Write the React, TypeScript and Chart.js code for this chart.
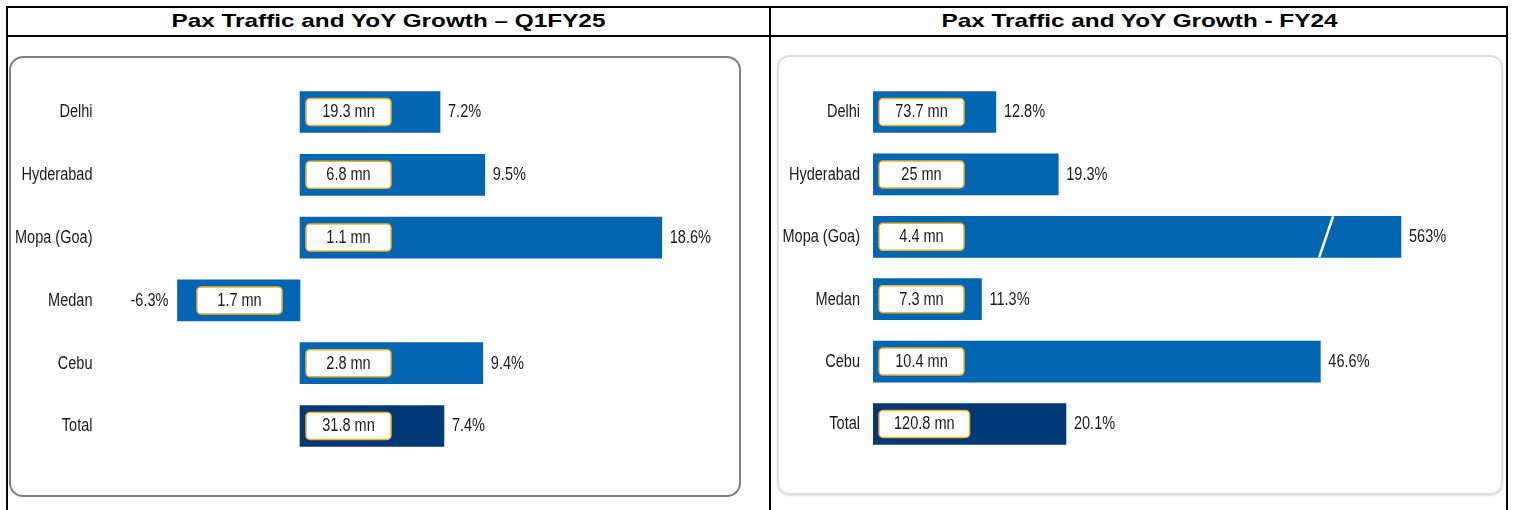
import React, { useEffect, useRef } from "react";
import { Chart, registerables } from "chart.js";

Chart.register(...registerables);

const categories = ["Delhi", "Hyderabad", "Mopa (Goa)", "Medan", "Cebu", "Total"];

const q1TrafficMn = [19.3, 6.8, 1.1, 1.7, 2.8, 31.8];
const q1GrowthPct = [7.2, 9.5, 18.6, -6.3, 9.4, 7.4];

const fy24TrafficMn = [73.7, 25, 4.4, 7.3, 10.4, 120.8];
const fy24GrowthPct = [12.8, 19.3, 563, 11.3, 46.6, 20.1];
// FY24 axis is broken: bars longer than this are drawn truncated with a break mark
const fy24AxisBreak = 55;
const fy24BreakMarkAt = 47.2;

const titles = ["Pax Traffic and YoY Growth \u2013 Q1FY25", "Pax Traffic and YoY Growth - FY24"];

const BLUE = "#0366b2";
const NAVY = "#013876";
const GOLD = "#f0b323";
const TEXT = "#1a1a1a";
const FONT_FAMILY = '"Liberation Sans", Arial, sans-serif';
const FONT_SIZE = 17.5;
const TEXT_SCALE_X = 0.83;

type PanelCfg = {
  traffic: number[];
  growth: number[];
  axisBreak?: number;
  breakAt?: number;
  min: number;
  max: number;
  padding: { left: number; right: number; top: number; bottom: number };
  width: number;
  height: number;
};

function fmt(v: number) {
  return String(v);
}

function roundRect(ctx: CanvasRenderingContext2D, x: number, y: number, w: number, h: number, r: number) {
  ctx.beginPath();
  ctx.moveTo(x + r, y);
  ctx.lineTo(x + w - r, y);
  ctx.arcTo(x + w, y, x + w, y + r, r);
  ctx.lineTo(x + w, y + h - r);
  ctx.arcTo(x + w, y + h, x + w - r, y + h, r);
  ctx.lineTo(x + r, y + h);
  ctx.arcTo(x, y + h, x, y + h - r, r);
  ctx.lineTo(x, y + r);
  ctx.arcTo(x, y, x + r, y, r);
  ctx.closePath();
}

function drawText(ctx: CanvasRenderingContext2D, txt: string, x: number, y: number, align: CanvasTextAlign) {
  ctx.save();
  ctx.translate(x, y);
  ctx.scale(TEXT_SCALE_X, 1);
  ctx.textAlign = align;
  ctx.fillText(txt, 0, 0);
  ctx.restore();
}

function makeLabelPlugin(cfg: PanelCfg) {
  return {
    id: "barLabels",
    afterDatasetsDraw(chart: any) {
      const ctx: CanvasRenderingContext2D = chart.ctx;
      const meta = chart.getDatasetMeta(0);
      const xScale = chart.scales.x;
      const area = chart.chartArea;
      const base = xScale.getPixelForValue(0);
      ctx.save();
      ctx.font = `${FONT_SIZE}px ${FONT_FAMILY}`;
      ctx.textBaseline = "middle";
      meta.data.forEach((bar: any, i: number) => {
        const y = bar.y + 0.5;
        const g = cfg.growth[i];
        ctx.fillStyle = TEXT;
        drawText(ctx, categories[i], area.left - 13, y, "right");
        if (g >= 0) {
          drawText(ctx, fmt(g) + "%", bar.x + 8, y, "left");
        } else {
          drawText(ctx, fmt(g) + "%", bar.x - 9, y, "right");
        }
        if (cfg.axisBreak !== undefined && cfg.breakAt !== undefined && g > cfg.axisBreak) {
          const bx = xScale.getPixelForValue(cfg.breakAt);
          const h = bar.height / 2;
          ctx.strokeStyle = "#ffffff";
          ctx.lineWidth = 2.5;
          ctx.beginPath();
          ctx.moveTo(bx - 7, bar.y + h);
          ctx.lineTo(bx + 7, bar.y - h);
          ctx.stroke();
        }
        const txt = fmt(cfg.traffic[i]) + " mn";
        const tw = ctx.measureText(txt).width * TEXT_SCALE_X;
        const bw = Math.max(85, tw + 30);
        const bh = 27;
        const bxLeft = g >= 0 ? base + 6 : base - 18 - bw;
        roundRect(ctx, bxLeft, bar.y - bh / 2, bw, bh, 4);
        ctx.fillStyle = "#ffffff";
        ctx.fill();
        ctx.strokeStyle = GOLD;
        ctx.lineWidth = 1.5;
        ctx.stroke();
        ctx.fillStyle = TEXT;
        drawText(ctx, txt, bxLeft + bw / 2, y, "center");
      });
      ctx.restore();
    },
  };
}

function BarPanel({ cfg, style }: { cfg: PanelCfg; style: React.CSSProperties }) {
  const ref = useRef<HTMLCanvasElement | null>(null);
  useEffect(() => {
    if (!ref.current) return;
    const shown = cfg.growth.map((g) => (cfg.axisBreak !== undefined ? Math.min(g, cfg.axisBreak) : g));
    const chart = new Chart(ref.current, {
      type: "bar",
      data: {
        labels: categories,
        datasets: [
          {
            data: shown,
            backgroundColor: categories.map((_, i) => (i === categories.length - 1 ? NAVY : BLUE)),
            borderWidth: 0,
            barThickness: 41,
          },
        ],
      },
      options: {
        indexAxis: "y",
        animation: false,
        responsive: false,
        devicePixelRatio: 1,
        layout: { padding: cfg.padding },
        plugins: { legend: { display: false }, tooltip: { enabled: false }, title: { display: false } },
        scales: {
          x: { display: false, min: cfg.min, max: cfg.max, grid: { display: false } },
          y: { display: false, grid: { display: false } },
        },
      },
      plugins: [makeLabelPlugin(cfg)],
    } as any);
    return () => chart.destroy();
  }, [cfg]);
  return <canvas ref={ref} width={cfg.width} height={cfg.height} style={{ position: "absolute", ...style, width: cfg.width, height: cfg.height }} />;
}

const leftCfg: PanelCfg = {
  traffic: q1TrafficMn,
  growth: q1GrowthPct,
  min: -10,
  max: 20,
  padding: { left: 95.5, right: 51, top: 23.6, bottom: 38.6 },
  width: 730,
  height: 439,
};

const rightCfg: PanelCfg = {
  traffic: fy24TrafficMn,
  growth: fy24GrowthPct,
  axisBreak: fy24AxisBreak,
  breakAt: fy24BreakMarkAt,
  min: 0,
  max: 60,
  padding: { left: 95, right: 53, top: 23.8, bottom: 38.8 },
  width: 724,
  height: 437,
};

export default function App() {
  const titleStyle: React.CSSProperties = {
    position: "absolute",
    top: 7,
    height: 28,
    lineHeight: "28px",
    textAlign: "center",
    fontFamily: '"Liberation Sans", Arial, sans-serif',
    fontWeight: "bold",
    fontSize: 19,
    color: "#000",
    transform: "scaleX(1.28)",
  };
  return (
    <div style={{ position: "absolute", left: 0, top: 0, width: 1513, height: 510, overflow: "hidden", background: "#fff" }}>
      <div style={{ position: "absolute", left: 6, top: 6, width: 1502, height: 600, border: "2px solid #000", boxSizing: "border-box" }} />
      <div style={{ position: "absolute", left: 6, top: 35, width: 1502, height: 2, background: "#000" }} />
      <div style={{ position: "absolute", left: 769, top: 6, width: 2, height: 600, background: "#000" }} />
      <div style={{ ...titleStyle, left: 8, width: 761 }}>{titles[0]}</div>
      <div style={{ ...titleStyle, left: 771, width: 737 }}>{titles[1]}</div>
      <div style={{ position: "absolute", left: 9, top: 56, width: 732, height: 441, border: "2px solid #808080", borderRadius: 14, boxSizing: "border-box" }} />
      <div style={{ position: "absolute", left: 777, top: 55, width: 726, height: 440, border: "2px solid #dedede", borderRadius: 12, boxSizing: "border-box", boxShadow: "0 1px 2px rgba(0,0,0,0.12)" }} />
      <BarPanel cfg={leftCfg} style={{ left: 10, top: 57 }} />
      <BarPanel cfg={rightCfg} style={{ left: 778, top: 57 }} />
    </div>
  );
}
